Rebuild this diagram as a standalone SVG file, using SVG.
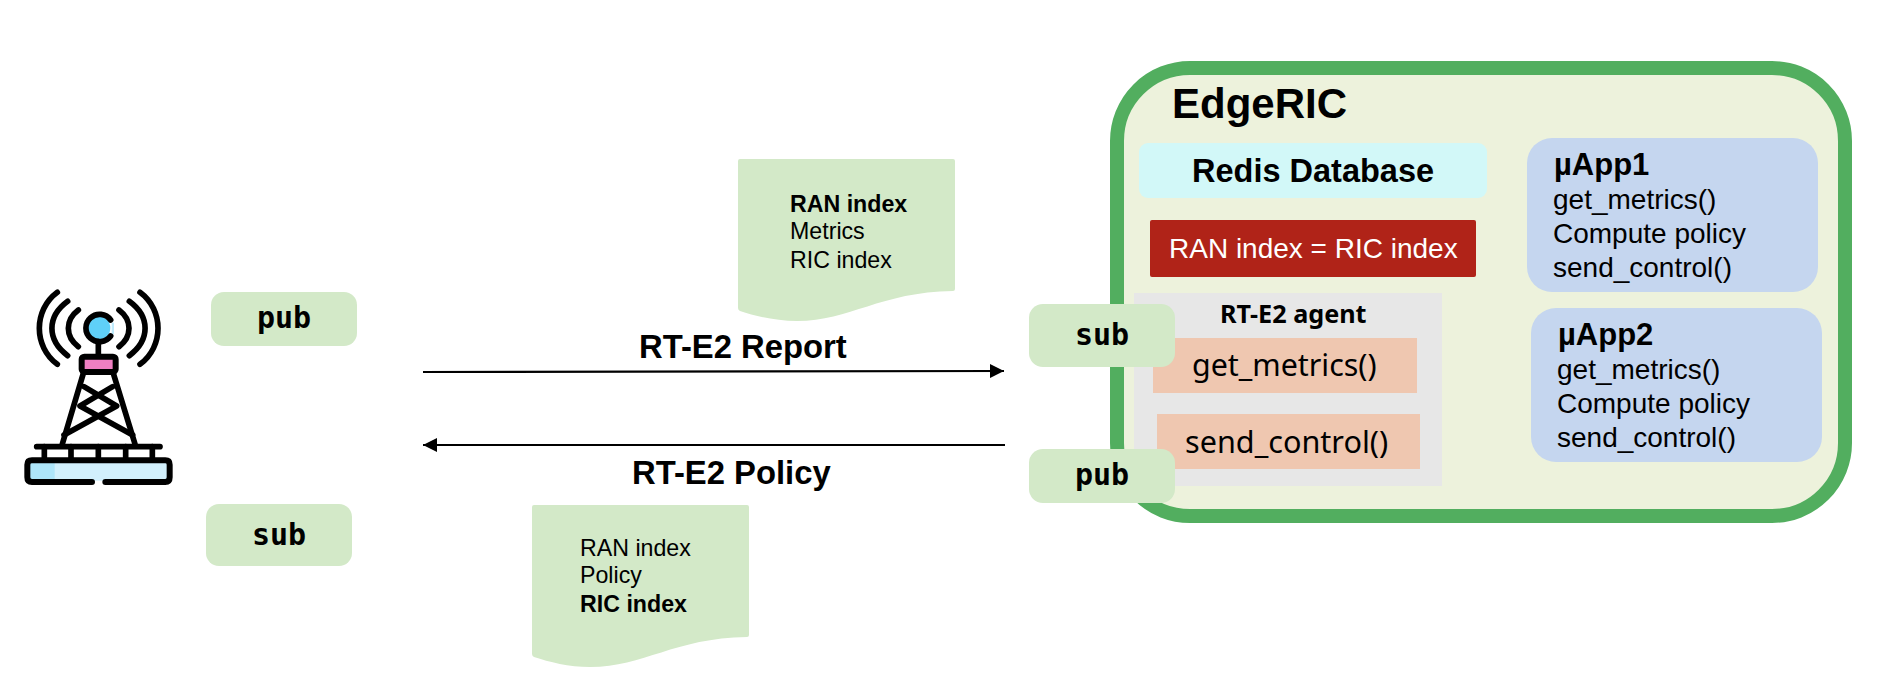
<svg xmlns="http://www.w3.org/2000/svg" width="1892" height="684" viewBox="0 0 1892 684">
<style>
text{font-family:"Liberation Sans",Arial,sans-serif;fill:#000}
.b{font-weight:700}
.tag{fill:#d3e9c8}
.mono{font-family:"DejaVu Sans Mono",monospace;font-weight:700;font-size:30px;text-anchor:middle}
.noto{font-family:"Noto Sans",sans-serif}
.app{fill:#c5d6ef}
.peach{fill:#efc7b0}
.t28{font-size:28px}
.t23{font-size:23.2px}
.t32{font-size:32.8px;font-weight:700}
.k{fill:none;stroke:#000;stroke-linecap:round;stroke-linejoin:round}
</style>
<defs>
<marker id="ah" markerUnits="userSpaceOnUse" markerWidth="14" markerHeight="14" refX="14" refY="7" orient="auto"><path d="M0,0 L14,7 L0,14 Z" fill="#000"/></marker>
</defs>
<g id="tower" transform="translate(0,260) scale(0.33333)">
<path d="M90,602 H502 V662 H90 Z" fill="#d2f0fc"/>
<rect x="90" y="606" width="74" height="54" fill="#aee6fa"/>
<circle cx="295" cy="204" r="36" fill="#5fd0f8"/>
<path d="M335,188 H342 V222 H335 Z" fill="#bfeafb"/>
<g class="k" stroke-width="17">
<path d="M172,97 C100,150 100,260 172,313"/>
<path d="M203,124 C140,170 140,240 203,287"/>
<path d="M235,150 C195,180 195,230 235,260"/>
<path d="M420,97 C492,150 492,260 420,313"/>
<path d="M388,124 C451,170 451,240 388,287"/>
<path d="M357,150 C397,180 397,230 357,260"/>
<path d="M332,180 A41,41 0 1 0 332,228"/>
<path d="M295,245 V285"/>
<path d="M250,340 L187,552"/>
<path d="M340,340 L405,552"/>
<path d="M338,380 L240,438 L398,525"/>
<path d="M252,380 L350,438 L192,525"/>
<path d="M110,560 H480"/>
<path d="M133,560 V600 M213,560 V600 M295,560 V600 M377,560 V600 M457,560 V600"/>
<path d="M276,666 H96 Q82,666 82,652 V614 Q82,601 96,601 H496 Q509,601 509,614 V652 Q509,666 496,666 H316" stroke-width="18"/>
</g>
<rect x="245" y="290" width="102" height="46" rx="8" fill="#ef7fc2" stroke="#000" stroke-width="18"/>
</g>
<g id="pub-left"><rect class="tag" x="211" y="292" width="146" height="54" rx="13"/><text class="mono" x="284" y="328">pub</text></g>
<g id="sub-left"><rect class="tag" x="206" y="504" width="146" height="62" rx="13"/><text class="mono" x="279" y="545">sub</text></g>
<g id="report-doc"><path class="tag" d="M738,161 Q738,159 740,159 H953 Q955,159 955,161 V289 Q955,291 953,291 C880,292 850,321 797,321 C775,321 755,316 740,311 Q738,310 738,308 Z"/>
<text class="t23 b" x="790" y="212">RAN index</text><text class="t23" x="790" y="239">Metrics</text><text class="t23" x="790" y="268">RIC index</text></g>
<g id="policy-doc"><path class="tag" d="M532,507 Q532,505 534,505 H747 Q749,505 749,507 V635 Q749,637 747,637 C674,638 644,667 590,667 C569,667 549,662 534,657 Q532,656 532,654 Z"/>
<text class="t23" x="580" y="556">RAN index</text><text class="t23" x="580" y="583">Policy</text><text class="t23 b" x="580" y="612">RIC index</text></g>
<g id="connectors">
<path d="M423,372 L1004,371" stroke="#000" stroke-width="2.2" fill="none" marker-end="url(#ah)"/>
<path d="M1005,445 H423" stroke="#000" stroke-width="2.2" fill="none" marker-end="url(#ah)"/>
</g>
<text class="t32" x="639" y="358">RT-E2 Report</text>
<text class="t32" x="632" y="484">RT-E2 Policy</text>
<g id="edgeric">
<rect x="1117" y="68" width="728" height="448" rx="73" fill="#edf2dc" stroke="#52ae5f" stroke-width="14"/>
<text class="b" x="1172" y="118" font-size="42">EdgeRIC</text>
</g>
<g id="redis"><rect x="1139" y="143" width="348" height="55" rx="9" fill="#d2f8f8"/><text class="b" x="1192" y="182" font-size="32.5">Redis Database</text></g>
<g id="index-check"><rect x="1150" y="220" width="326" height="57" rx="2" fill="#b02318"/><text style="fill:#fff" x="1169" y="258" font-size="28">RAN index = RIC index</text></g>
<g id="agent"><rect x="1134" y="293" width="308" height="193" fill="#e7e7e7"/><text class="noto b" x="1220" y="323" font-size="25.2">RT-E2 agent</text></g>
<g id="get-metrics"><rect class="peach" x="1153" y="338" width="264" height="55"/><text class="noto" x="1192" y="376" font-size="30.4">get_metrics()</text></g>
<g id="send-control"><rect class="peach" x="1157" y="414" width="263" height="55"/><text class="noto" x="1185" y="453" font-size="30.6">send_control()</text></g>
<g id="uapp1"><rect class="app" x="1527" y="138" width="291" height="154" rx="25"/><text class="b" x="1554" y="175" font-size="31">µApp1</text><text class="t28" x="1553" y="209">get_metrics()</text><text class="t28" x="1553" y="243">Compute policy</text><text class="t28" x="1553" y="277">send_control()</text></g>
<g id="uapp2"><rect class="app" x="1531" y="308" width="291" height="154" rx="25"/><text class="b" x="1558" y="345" font-size="31">µApp2</text><text class="t28" x="1557" y="379">get_metrics()</text><text class="t28" x="1557" y="413">Compute policy</text><text class="t28" x="1557" y="447">send_control()</text></g>
<g id="sub-right"><rect class="tag" x="1029" y="304" width="146" height="63" rx="14"/><text class="mono" x="1102" y="345">sub</text></g>
<g id="pub-right"><rect class="tag" x="1029" y="449" width="146" height="54" rx="14"/><text class="mono" x="1102" y="485">pub</text></g>
</svg>
